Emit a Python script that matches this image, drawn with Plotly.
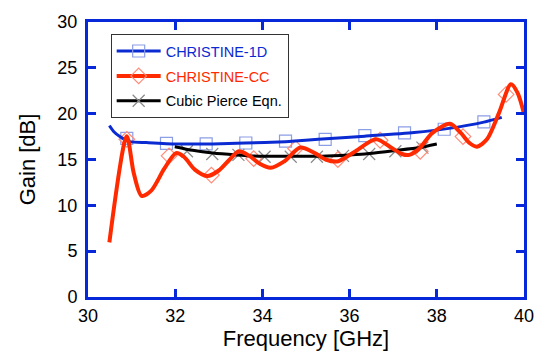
import plotly.graph_objects as go

# ---- data ----
blue_f = [30.49, 30.6, 30.73, 30.96, 31.34, 32.02, 32.86, 33.6, 34.53, 34.83, 35.28, 36.35, 37.48, 38.24, 39.08, 39.49]
blue_g = [18.7, 18.0, 17.5, 16.95, 16.85, 16.7, 16.7, 16.8, 16.95, 17.05, 17.2, 17.55, 17.95, 18.37, 19.08, 19.6]

red_f = [30.49, 30.89, 31.05, 31.23, 31.45, 31.75, 32.02, 32.2, 32.45, 32.74, 33.0, 33.25, 33.46, 33.7,
         33.95, 34.19, 34.5, 34.87, 35.2, 35.45, 35.74, 36.1, 36.61, 36.95, 37.2, 37.37, 37.6, 37.9,
         38.3, 38.55, 38.75, 38.92, 39.15, 39.42, 39.7, 39.85, 40.0]
red_g = [5.96, 17.55, 13.5, 11.03, 11.6, 14.0, 15.7, 15.3, 13.9, 13.2, 13.8, 15.0, 15.9, 15.4,
         14.5, 14.1, 14.8, 16.3, 15.7, 15.0, 14.8, 15.8, 17.2, 16.3, 15.6, 15.5, 16.2, 17.9,
         18.9, 17.9, 16.8, 16.4, 17.2, 20.0, 23.2, 22.3, 20.0]

black_f = [31.99, 32.4, 32.86, 33.4, 34.0, 34.83, 35.28, 35.8, 36.35, 37.1, 37.6, 38.0]
black_g = [16.4, 16.0, 15.7, 15.5, 15.35, 15.35, 15.35, 15.45, 15.6, 16.0, 16.3, 16.7]

sq_f = [30.89, 31.80, 32.71, 33.62, 34.53, 35.44, 36.35, 37.26, 38.17, 39.08]
sq_g = [17.3, 16.75, 16.7, 16.8, 17.0, 17.2, 17.6, 17.9, 18.3, 19.1]

dm_f = [30.89, 31.86, 32.83, 33.80, 34.76, 35.73, 36.70, 37.62, 38.60, 39.59]
dm_g = [17.2, 15.4, 13.3, 15.1, 16.2, 15.0, 17.1, 15.9, 17.5, 22.1]

x_f = [32.27, 32.85, 33.45, 34.05, 34.65, 35.25, 35.85, 36.45, 37.05, 37.67]
x_g = [15.9, 15.6, 15.5, 15.3, 15.3, 15.3, 15.4, 15.6, 15.9, 16.3]

names = ["CHRISTINE-1D", "CHRISTINE-CC", "Cubic Pierce Eqn."]

AX = "#0628d8"
BLUE = "#0a2ad2"
RED = "#ff2a00"
SQ = "#8c9ee6"
DM = "#ff8c7a"
XC = "#8a8a8a"

fig = go.Figure()

# marker-only traces
fig.add_trace(go.Scatter(x=sq_f, y=sq_g, mode="markers", showlegend=False,
                         marker=dict(symbol="square-open", size=12, color=SQ, line=dict(width=1.2))))
fig.add_trace(go.Scatter(x=x_f, y=x_g, mode="markers", showlegend=False,
                         marker=dict(symbol="x-thin-open", size=12, color=XC, line=dict(width=1.2, color=XC))))
fig.add_trace(go.Scatter(x=dm_f, y=dm_g, mode="markers", showlegend=False,
                         marker=dict(symbol="diamond-open", size=12, color=DM, line=dict(width=1.2))))

# lines
fig.add_trace(go.Scatter(x=blue_f, y=blue_g, mode="lines", showlegend=False,
                         line=dict(color=BLUE, width=3, shape="spline", smoothing=0.6)))
fig.add_trace(go.Scatter(x=black_f, y=black_g, mode="lines", showlegend=False,
                         line=dict(color="black", width=3, shape="spline", smoothing=0.6)))
fig.add_trace(go.Scatter(x=red_f, y=red_g, mode="lines", showlegend=False,
                         line=dict(color=RED, width=4, shape="spline", smoothing=0.8)))

# legend entries
fig.add_trace(go.Scatter(x=[None], y=[None], mode="lines+markers", legendgroup="a",
                         name=f"<span style='color:{BLUE}'>{names[0]}</span>",
                         line=dict(color=BLUE, width=3),
                         marker=dict(symbol="square-open", size=12, color=SQ, line=dict(width=1.2))))
fig.add_trace(go.Scatter(x=[None], y=[None], mode="lines+markers", legendgroup="b",
                         name=f"<span style='color:{RED}'>{names[1]}</span>",
                         line=dict(color=RED, width=4),
                         marker=dict(symbol="diamond-open", size=12, color=DM, line=dict(width=1.2))))
fig.add_trace(go.Scatter(x=[None], y=[None], mode="lines+markers", legendgroup="c",
                         name=names[2],
                         line=dict(color="black", width=3),
                         marker=dict(symbol="x-thin-open", size=12, color=XC, line=dict(width=1.2, color=XC))))

fig.update_layout(
    width=546, height=355,
    margin=dict(l=88, r=19, t=18, b=54),
    paper_bgcolor="white", plot_bgcolor="white",
    font=dict(family="Liberation Sans, Arial, sans-serif", color="black"),
    legend=dict(x=0.052, y=0.956, xanchor="left", yanchor="top",
                bordercolor="#333333", borderwidth=1, bgcolor="white",
                font=dict(size=14.5), itemwidth=44, tracegroupgap=3,
                traceorder="grouped"),
    xaxis=dict(range=[30, 40], tickvals=[30, 32, 34, 36, 38, 40],
               showline=True, linecolor=AX, linewidth=3, mirror="ticks",
               ticks="inside", ticklen=8, tickwidth=2.5, tickcolor=AX,
               showgrid=False, zeroline=False, tickfont=dict(size=18),
               title=dict(text="Frequency [GHz]", font=dict(size=22), standoff=2)),
    yaxis=dict(range=[0, 30], tickvals=[0, 5, 10, 15, 20, 25, 30],
               showline=True, linecolor=AX, linewidth=3, mirror="ticks",
               ticks="inside", ticklen=8, tickwidth=2.5, tickcolor=AX,
               showgrid=False, zeroline=False, tickfont=dict(size=18),
               ticklabelstandoff=4,
               title=dict(text="Gain [dB]", font=dict(size=22), standoff=16)),
)

fig.write_html("out.html")
